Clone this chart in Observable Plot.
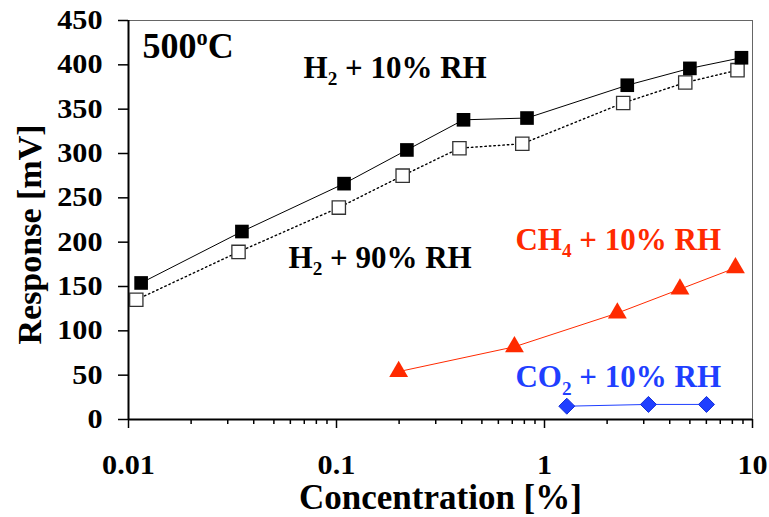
<!DOCTYPE html>
<html><head><meta charset="utf-8">
<script src="https://cdn.jsdelivr.net/npm/d3@7"></script>
<script src="https://cdn.jsdelivr.net/npm/@observablehq/plot@0.6"></script>
<style>body{margin:0;background:#fff}</style>
</head><body><div id="chart"></div>
<script>
// H2 + 10% RH (filled squares)
const h2DryConc = [0.0115, 0.0351, 0.1087, 0.218, 0.408, 0.824, 2.50, 5.00, 8.85];
const h2DryResp = [154, 212, 266, 304, 338, 340, 377, 396, 408];
// H2 + 90% RH (open squares)
const h2WetConc = [0.0109, 0.0338, 0.1026, 0.208, 0.390, 0.782, 2.39, 4.75, 8.47];
const h2WetResp = [135, 189, 239, 275, 306, 311, 357, 380, 394];
// CH4 + 10% RH
const ch4Conc = [0.199, 0.717, 2.24, 4.48, 8.28];
const ch4Resp = [54, 82, 120, 147, 171];
// CO2 + 10% RH
const co2Conc = [1.28, 3.16, 6.01];
const co2Resp = [15, 17, 17];

const yTicks = [0, 50, 100, 150, 200, 250, 300, 350, 400, 450];
const xTicks = [0.01, 0.1, 1, 10];
const xMinor = [0.02,0.03,0.04,0.05,0.06,0.07,0.08,0.09,0.2,0.3,0.4,0.5,0.6,0.7,0.8,0.9,2,3,4,5,6,7,8,9];

const labelText = ["H2 + 10% RH", "H2 + 90% RH", "CH4 + 10% RH", "CO2 + 10% RH"];
const labelConc = [0.0694, 0.0588, 0.7252, 0.7252];
const labelResp = [385.7, 171.4, 191.7, 36.1];
const labelColor = ["#000", "#000", "#ff2a00", "#1f3fff"];

const RED = "#ff2a00", BLUE = "#1f3fff";
const rows = (c, r) => c.map((v, i) => ({conc: v, resp: r[i]}));
const h2Dry = rows(h2DryConc, h2DryResp);
const h2Wet = rows(h2WetConc, h2WetResp);
const ch4 = rows(ch4Conc, ch4Resp);
const co2 = rows(co2Conc, co2Resp);
const labels = labelText.map((t, i) => ({text: t, conc: labelConc[i], resp: labelResp[i], color: labelColor[i]}));

const LABEL_FS = 31, TITLE_FS = 36;
const svg = Plot.plot({
  width: 769, height: 517,
  marginLeft: 128, marginRight: 17, marginTop: 20, marginBottom: 98,
  style: {fontFamily: "'Liberation Serif', 'Times New Roman', serif", fontWeight: "bold", background: "#fff", color: "#000", overflow: "visible"},
  x: {type: "log", domain: [0.01, 10], label: null},
  y: {domain: [0, 450], label: null},
  marks: [
    Plot.axisY({ticks: yTicks, tickSize: 10, tickPadding: 16, fontSize: 27, strokeWidth: 1.5, label: null, tickFormat: d => String(d)}),
    Plot.axisX({ticks: xMinor, tickSize: 5, strokeWidth: 1.5, label: null, tickFormat: () => ""}),
    Plot.axisX({ticks: xTicks, tickSize: 9, tickPadding: 26, fontSize: 27, strokeWidth: 1.5, label: null, tickFormat: d => String(d)}),
    Plot.ruleY([450], {stroke: "#666", strokeWidth: 1}),
    Plot.ruleX([10], {stroke: "#666", strokeWidth: 1}),
    Plot.ruleX([0.01], {stroke: "#000", strokeWidth: 2}),
    Plot.ruleY([0], {stroke: "#000", strokeWidth: 2}),
    Plot.line(h2Wet, {x: "conc", y: "resp", stroke: "#000", strokeWidth: 1.4, strokeDasharray: "1.5,3"}),
    Plot.line(h2Dry, {x: "conc", y: "resp", stroke: "#000", strokeWidth: 1}),
    Plot.line(ch4, {x: "conc", y: "resp", stroke: RED, strokeWidth: 1}),
    Plot.line(co2, {x: "conc", y: "resp", stroke: BLUE, strokeWidth: 1}),
    Plot.dot(h2Wet, {x: "conc", y: "resp", symbol: "square", r: 7.5, fill: "#fff", stroke: "#333", strokeWidth: 1.3}),
    Plot.dot(h2Dry, {x: "conc", y: "resp", symbol: "square", r: 7.7, fill: "#000"}),
    Plot.dot(ch4, {x: "conc", y: "resp", symbol: "triangle", r: 7, fill: RED}),
    Plot.dot(co2, {x: "conc", y: "resp", symbol: "diamond2", r: 7.2, fill: BLUE, stroke: "#1530d8", strokeWidth: 1}),
    Plot.text(labels, {x: "conc", y: "resp", text: "text", fill: "color", fontSize: LABEL_FS, textAnchor: "start", lineAnchor: "bottom"}),
    Plot.text(["500oC"], {frameAnchor: "top-left", dx: 14, dy: 37, fontSize: TITLE_FS, textAnchor: "start", lineAnchor: "bottom"}),
    Plot.text(["Concentration [%]"], {frameAnchor: "bottom", dy: 89, fontSize: 35, textAnchor: "middle", lineAnchor: "bottom"}),
    Plot.text(["Response [mV]"], {frameAnchor: "left", dx: -98, dy: 14.5, rotate: -90, fontSize: 34, textAnchor: "middle", lineAnchor: "middle"})
  ]
});

// rich text: subscripts / superscripts
const rich = {
  "H2 + 10% RH": [[["H",""],["2","sub"],[" + 10% RH",""]], LABEL_FS],
  "H2 + 90% RH": [[["H",""],["2","sub"],[" + 90% RH",""]], LABEL_FS],
  "CH4 + 10% RH": [[["CH",""],["4","sub"],[" + 10% RH",""]], LABEL_FS],
  "CO2 + 10% RH": [[["CO",""],["2","sub"],[" + 10% RH",""]], LABEL_FS],
  "500oC": [[["500",""],["o","sup"],["C",""]], TITLE_FS]
};
svg.querySelectorAll("text").forEach(t => {
  const r = rich[t.textContent];
  if (!r) return;
  const [parts, fs] = r;
  t.textContent = "";
  let shift = 0;
  for (const [s, kind] of parts) {
    const ts = document.createElementNS("http://www.w3.org/2000/svg", "tspan");
    const target = kind === "sub" ? 0.24 * fs : kind === "sup" ? -0.36 * fs : 0;
    ts.setAttribute("dy", String(target - shift));
    shift = target;
    if (kind) ts.setAttribute("font-size", String(fs * 0.62));
    ts.textContent = s;
    t.appendChild(ts);
  }
});
// slightly wide tick numerals as in the reference
svg.querySelectorAll('g[aria-label="y-axis tick label"] text, g[aria-label="x-axis tick label"] text').forEach(t => {
  const tr = t.getAttribute("transform") || "";
  t.setAttribute("transform", tr + " scale(1.12,1)");
});
document.getElementById("chart").appendChild(svg);
</script>
</body></html>
